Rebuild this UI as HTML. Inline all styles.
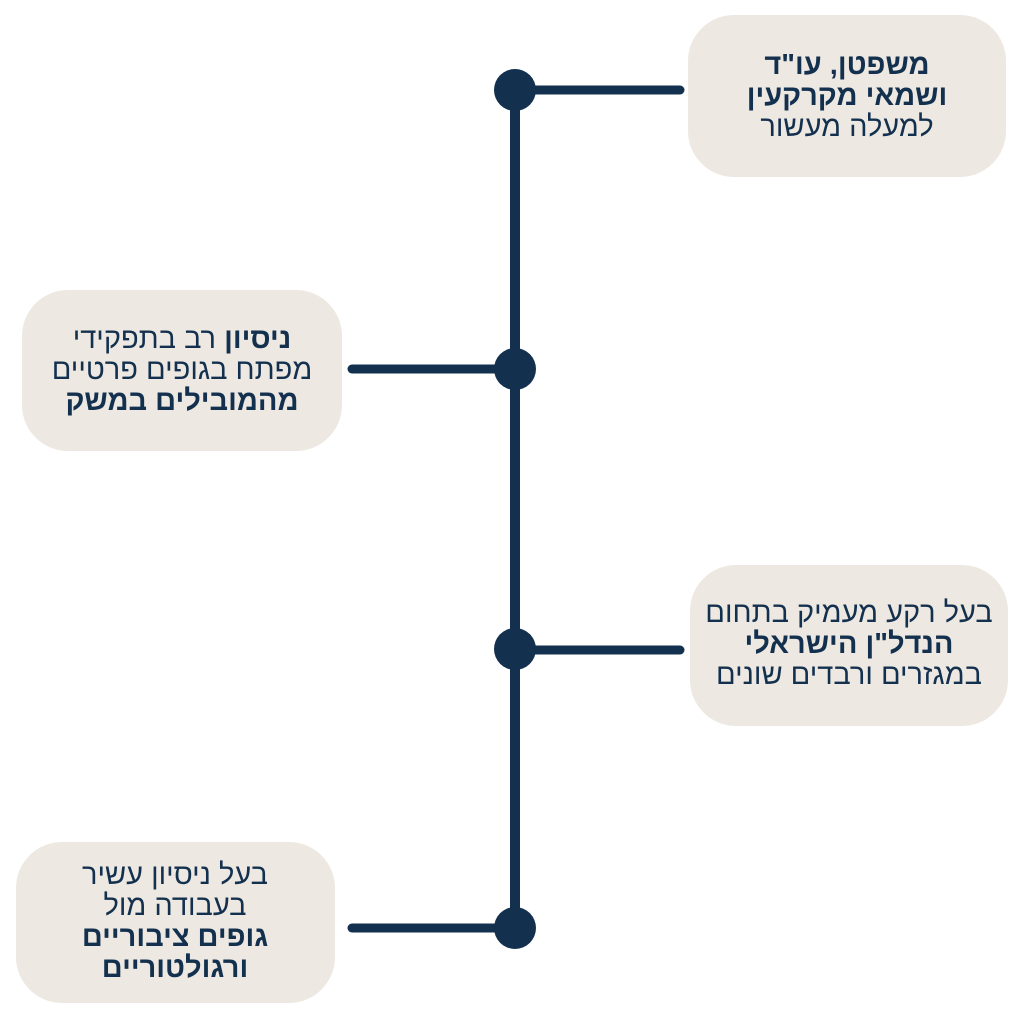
<!DOCTYPE html>
<html><head><meta charset="utf-8"><style>
body{margin:0;width:1024px;height:1024px;background:#fff;position:relative;overflow:hidden;font-family:"Liberation Sans","DejaVu Sans",sans-serif;color:#13304e}
.box{position:absolute;background:#ede8e1;border-radius:46px}
.t{position:absolute;direction:rtl;text-align:center;font-size:29px;line-height:31px;width:320px;white-space:nowrap}
b{font-weight:bold}
svg{position:absolute;left:0;top:0}
</style></head><body>
<div class="box" style="left:688px;top:15px;width:318px;height:162px"></div>
<div class="box" style="left:22px;top:290px;width:320px;height:161px"></div>
<div class="box" style="left:690px;top:565px;width:318px;height:161px"></div>
<div class="box" style="left:16px;top:842px;width:319px;height:161px"></div>
<svg width="1024" height="1024">
<g stroke="#13304e" stroke-linecap="round" stroke-width="9">
<line x1="515" y1="90" x2="515" y2="928" stroke-width="10"/>
<line x1="515" y1="90" x2="680" y2="90"/>
<line x1="352" y1="369" x2="515" y2="369"/>
<line x1="515" y1="650" x2="680" y2="650"/>
<line x1="352" y1="928" x2="515" y2="928"/>
</g>
<g fill="#13304e">
<circle cx="515" cy="90" r="21"/><circle cx="515" cy="369" r="21"/>
<circle cx="515" cy="649" r="21"/><circle cx="515" cy="928" r="21"/>
</g>
</svg>
<div class="t" style="left:687px;top:50px"><b>משפטן, עו"ד</b><br><b>ושמאי מקרקעין</b><br>למעלה מעשור</div>
<div class="t" style="left:22px;top:324px">‏<b>ניסיון</b> רב בתפקידי<br>מפתח בגופים פרטיים<br><b>מהמובילים במשק</b></div>
<div class="t" style="left:689px;top:598px">בעל רקע מעמיק בתחום<br><b>הנדל"ן הישראלי</b><br>במגזרים ורבדים שונים</div>
<div class="t" style="left:15px;top:860px">בעל ניסיון עשיר<br>בעבודה מול<br><b>גופים ציבוריים</b><br><b>ורגולטוריים</b></div>
</body></html>
